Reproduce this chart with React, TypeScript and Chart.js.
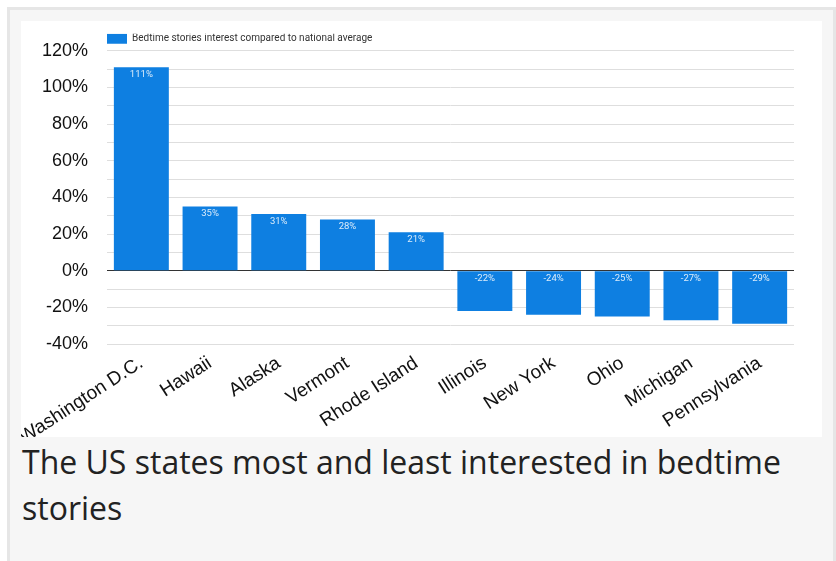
import React, { useEffect, useRef } from "react";
import { Chart, registerables } from "chart.js";

Chart.register(...registerables);

const categories = [
  "Washington D.C.",
  "Hawaii",
  "Alaska",
  "Vermont",
  "Rhode Island",
  "Illinois",
  "New York",
  "Ohio",
  "Michigan",
  "Pennsylvania",
];
const interestValues = [111, 35, 31, 28, 21, -22, -24, -25, -27, -29];
const seriesLabel = "Bedtime stories interest compared to national average";
const yMin = -40;
const yMax = 120;
const yStep = 10;
const yLabelStep = 20;
const captionText = "The US states most and least interested in bedtime stories";

const BAR_COLOR = "#0e7fe1";

const barLabelPlugin = {
  id: "barLabels",
  afterDatasetsDraw(chart: any) {
    const ctx = chart.ctx;
    const meta = chart.getDatasetMeta(0);
    const data = chart.data.datasets[0].data as number[];
    ctx.save();
    ctx.font = "9.5px Roboto";
    ctx.fillStyle = "rgba(255,255,255,0.85)";
    ctx.textAlign = "center";
    ctx.textBaseline = "middle";
    meta.data.forEach((el: any, i: number) => {
      const v = data[i];
      const topEdge = v >= 0 ? el.y : el.base;
      ctx.fillText(v + "%", el.x, topEdge + 7.5);
    });
    ctx.restore();
  },
};

export default function App() {
  const ref = useRef<HTMLCanvasElement | null>(null);

  useEffect(() => {
    document.documentElement.style.overflow = "hidden";
    const canvas = ref.current!;
    const chart = new Chart(canvas, {
      type: "bar",
      data: {
        labels: categories,
        datasets: [
          {
            label: seriesLabel,
            data: interestValues,
            backgroundColor: BAR_COLOR,
            borderWidth: 0,
            barPercentage: 0.8,
            categoryPercentage: 1,
          },
        ],
      },
      options: {
        responsive: false,
        animation: false,
        layout: { padding: { top: 12, right: 28, left: 0, bottom: 0 } },
        plugins: {
          legend: {
            position: "top",
            align: "start",
            fullSize: false,
            maxHeight: 17,
            labels: {
              boxWidth: 20,
              boxHeight: 10,
              padding: 0,
              color: "#333",
              font: { family: "Roboto", size: 10 },
            },
          } as any,
          tooltip: { enabled: false },
        },
        scales: {
          x: {
            grid: { display: false },
            border: { display: false },
            ticks: {
              color: "#111",
              font: { family: "'Liberation Sans', Arial, sans-serif", size: 19 },
              maxRotation: 33,
              minRotation: 33,
              padding: 0,
              autoSkip: false,
            },
            afterFit(scale: any) {
              scale.height = 93;
              scale.paddingLeft = 0;
              scale.paddingRight = 0;
            },
          },
          y: {
            min: yMin,
            max: yMax,
            border: { display: false },
            grid: {
              drawTicks: false,
              color: (c: any) => (c.tick && c.tick.value === 0 ? "#333" : "#dedede"),
              lineWidth: 1,
            },
            ticks: {
              stepSize: yStep,
              padding: 19,
              color: "#111",
              font: { family: "'Liberation Sans', Arial, sans-serif", size: 18 },
              callback: (v: any) => (Number(v) % yLabelStep === 0 ? v + "%" : ""),
              autoSkip: false,
            },
            afterFit(scale: any) {
              scale.width = 86;
            },
          },
        },
      },
      plugins: [barLabelPlugin],
    });
    return () => chart.destroy();
  }, []);

  return (
    <div>
      <div
        style={{
          position: "absolute",
          left: 7,
          top: 7,
          width: 829,
          height: 554,
          boxSizing: "border-box",
          border: "3px solid #e6e6e6",
          borderBottom: "none",
          background: "#f6f6f6",
        }}
      />
      <div
        style={{
          position: "absolute",
          left: 21,
          top: 21,
          width: 801,
          height: 416,
          background: "#ffffff",
        }}
      >
        <canvas ref={ref} width={801} height={416} style={{ width: 801, height: 416, display: "block" }} />
      </div>
      <div
        style={{
          position: "absolute",
          left: 22,
          top: 439,
          width: 800,
          fontFamily: "'Open Sans', sans-serif",
          fontSize: 32,
          lineHeight: "46px",
          color: "#222",
        }}
      >
        {captionText}
      </div>
    </div>
  );
}
